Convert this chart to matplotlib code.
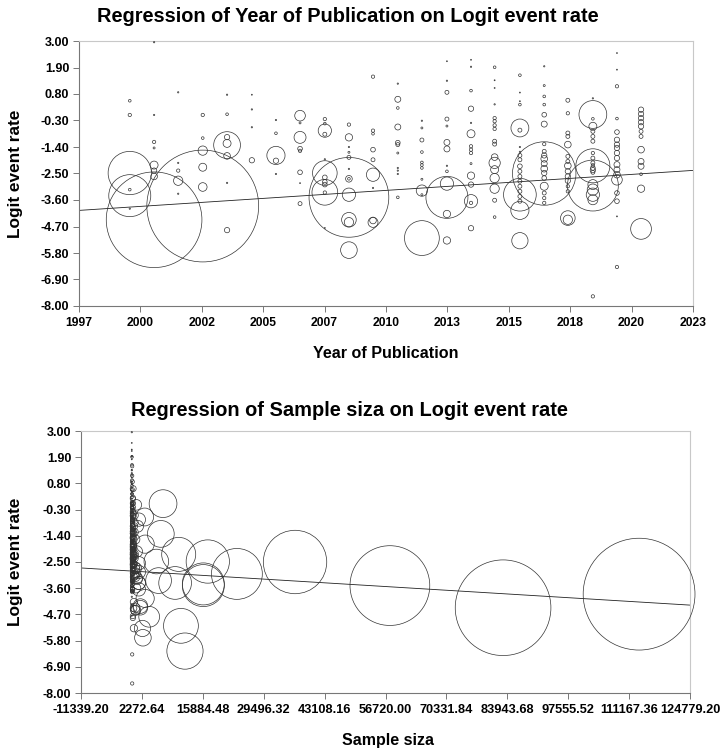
import numpy as np
import matplotlib
matplotlib.use("Agg")
import matplotlib.pyplot as plt

plt.rcParams['font.family'] = ['Liberation Sans', 'DejaVu Sans']
plt.rcParams['font.weight'] = 'bold'

# column positions (year of publication)
years = [1999.15, 2000.18, 2001.2, 2002.24, 2003.27, 2004.32, 2005.34, 2006.36,
         2007.41, 2008.43, 2009.45, 2010.5, 2011.52, 2012.58, 2013.6, 2014.6,
         2015.67, 2016.7, 2017.7, 2018.76, 2019.78, 2020.8]

# logit event rate of each study, grouped by year column
logit = [
    [0.52, -0.07, -2.48, -3.42, -3.17, -3.96],
    [2.95, -0.07, -1.19, -1.44, -2.15, -2.38, -2.62, -4.42],
    [0.87, -2.06, -2.38, -2.80, -3.34],
    [-0.07, -1.03, -1.55, -2.24, -3.06, -3.85],
    [0.77, -0.04, -0.99, -1.25, -1.32, -1.77, -2.89, -4.85],
    [0.77, 0.16, -0.58, -1.95],
    [-0.28, -0.83, -1.75, -1.97, -2.52],
    [-0.10, -0.40, -1.00, -1.47, -1.56, -2.45, -2.90, -3.75],
    [-0.24, -0.43, -0.72, -0.87, -1.91, -2.48, -2.66, -2.85, -2.96, -3.28, -3.29, -4.76],
    [-0.47, -1.00, -1.40, -1.62, -1.83, -2.31, -2.72, -2.72, -3.38, -4.42, -4.52, -5.68, -3.49],
    [1.52, -0.72, -0.85, -1.51, -1.93, -2.55, -3.10, -4.53, -4.45],
    [1.23, 0.58, 0.22, -0.57, -1.22, -1.30, -1.65, -2.27, -2.38, -2.52, -3.49],
    [-0.31, -0.61, -1.11, -1.61, -2.04, -2.15, -2.27, -2.74, -3.21, -3.38, -5.18],
    [2.16, 1.35, 0.87, -0.24, -0.53, -1.21, -1.48, -2.18, -2.41, -2.92, -3.49, -4.18, -5.28],
    [2.22, 1.93, 0.94, 0.19, -0.40, -0.85, -1.37, -1.51, -1.65, -2.09, -2.59, -2.96, -3.65, -3.72, -4.77],
    [1.91, 1.37, 1.05, 0.37, -0.20, -0.33, -0.50, -0.65, -1.16, -1.28, -1.82, -2.06, -2.34, -2.69,
     -3.13, -3.61, -4.31],
    [1.58, 0.86, 0.50, 0.36, -0.61, -0.70, -1.40, -1.60, -1.75, -1.93, -2.20, -2.41, -2.62, -2.82,
     -3.03, -3.24, -3.45, -3.65, -3.38, -4.03, -5.29],
    [1.95, 1.15, 0.70, 0.36, -0.06, -0.45, -1.28, -1.58, -1.75, -1.89, -2.09, -2.30, -2.48, -2.69,
     -3.03, -3.31, -3.52, -3.72, -2.50],
    [0.54, 0.00, -0.82, -0.96, -1.30, -1.79, -2.00, -2.18, -2.41, -2.62, -2.80, -3.03, -3.24, -4.35, -4.42],
    [0.62, -0.05, -0.23, -0.54, -0.75, -0.96, -1.16, -1.65, -1.86, -2.06, -2.16, -2.27, -2.36, -2.45,
     -2.18, -2.96, -3.17, -3.38, -3.59, -3.00, -7.60],
    [2.50, 1.81, 1.12, -0.22, -0.78, -1.10, -1.30, -1.44, -1.65, -1.86, -2.13, -2.34, -2.55, -2.76,
     -3.31, -3.65, -4.28, -6.38],
    [0.15, -0.03, -0.20, -0.37, -0.54, -0.75, -0.96, -1.51, -2.00, -2.20, -2.53, -3.13, -4.80],
]

# sample size of each study (same grouping)
n = [
    [64, 100, 17000, 16000, 64, 16],
    [16, 16, 100, 36, 576, 256, 400, 83000],
    [16, 16, 100, 784, 16],
    [100, 64, 784, 576, 676, 113400],
    [16, 64, 256, 576, 6500, 400, 16, 256],
    [9, 16, 16, 256],
    [16, 64, 3000, 256, 16],
    [1024, 36, 1296, 196, 100, 196, 9, 144],
    [100, 64, 1600, 144, 16, 5500, 196, 196, 196, 6000, 100, 9],
    [100, 484, 16, 36, 144, 16, 400, 64, 1600, 1936, 784, 2500, 57700],
    [100, 100, 64, 196, 144, 1600, 16, 900, 400],
    [16, 324, 64, 324, 196, 144, 36, 16, 16, 16, 64],
    [16, 36, 144, 64, 64, 64, 64, 36, 1156, 36, 11000],
    [9, 16, 144, 144, 36, 324, 324, 16, 64, 1600, 16000, 484, 484],
    [9, 16, 64, 256, 16, 576, 100, 100, 100, 36, 484, 256, 1600, 100, 256],
    [64, 9, 9, 16, 100, 100, 100, 100, 144, 144, 400, 1156, 576, 784, 784, 144, 64],
    [64, 9, 9, 64, 2900, 144, 16, 16, 144, 144, 196, 144, 144, 144, 144, 144, 144, 144, 9700, 3000, 2400],
    [16, 36, 64, 64, 196, 324, 100, 144, 256, 400, 324, 400, 256, 196, 576, 144, 100, 100, 36500],
    [144, 100, 144, 144, 400, 144, 144, 400, 256, 256, 256, 100, 100, 1936, 784],
    [16, 7000, 64, 576, 144, 144, 144, 100, 144, 144, 100, 196, 256, 144, 10500, 900, 1156, 1600, 900,
     23500, 100],
    [9, 9, 100, 64, 196, 256, 256, 256, 256, 256, 324, 324, 400, 1024, 196, 196, 9, 100],
    [256, 256, 256, 256, 256, 144, 144, 400, 324, 324, 64, 484, 3900],
]

# study shown only in the sample size panel
extra_n = [11900]
extra_logit = [-6.24]

# fitted regression lines (intercept, slope)
fit_year = (-131.54, 0.06385)
fit_size = (-2.88, -1.146e-5)

year_x = np.concatenate([[y] * len(v) for y, v in zip(years, logit)])
lg = np.concatenate(logit)
ns = np.concatenate(n)

yticks = np.linspace(3.0, -8.0, 11)
xt_year = np.linspace(1997, 2023, 11)
xt_size = np.linspace(-11339.2, 124779.2, 11)

W, H = 728, 750
fig = plt.figure(figsize=(W / 100, H / 100), dpi=100)
ax1 = fig.add_axes([79 / W, 1 - 306 / H, 614 / W, 265 / H])
ax2 = fig.add_axes([81 / W, 1 - 693 / H, 609 / W, 262 / H])

# marker area in points^2 proportional to sample size
def msize(v):
    r_px = 0.166 * np.sqrt(np.asarray(v, float))
    return (2 * r_px * 0.72) ** 2

def style(ax, xsize):
    for s in ['top', 'right']:
        ax.spines[s].set_color('#c8c8c8')
    for s in ['left', 'bottom']:
        ax.spines[s].set_color('#777777')
    for s in ax.spines.values():
        s.set_linewidth(0.8)
    ax.tick_params(direction='out', length=4, width=0.7, color='#777777', pad=3)
    ax.tick_params(axis='y', labelsize=9)
    ax.tick_params(axis='x', labelsize=xsize, pad=4)
    ax.set_ylim(-8, 3)
    ax.set_yticks(yticks)
    ax.set_yticklabels([f"{v:.2f}" for v in yticks])

def fig_text(x, y, s, size, **kw):
    fig.text(x / W, 1 - y / H, s, ha='center', va='center', fontsize=size,
             fontweight='bold', **kw)

# top panel
ax1.scatter(year_x, lg, s=msize(ns), facecolors='none', edgecolors='#333333',
            linewidths=0.5, clip_on=False, zorder=3)
xx = np.array([1997, 2023])
ax1.plot(xx, fit_year[0] + fit_year[1] * xx, color='#222222', lw=0.6, zorder=2)
ax1.set_xlim(1997, 2023)
ax1.set_xticks(xt_year)
ax1.set_xticklabels([f"{v:.0f}" for v in xt_year])
style(ax1, 8.7)

fig_text(348, 16, "Regression of Year of Publication on Logit event rate", 14.4)
fig_text(386, 353, "Year of Publication", 11.6)
fig_text(16, 174, "Logit event rate", 12.4, rotation=90)

# bottom panel
all_n = np.concatenate([ns, extra_n])
all_lg = np.concatenate([lg, extra_logit])
ax2.scatter(all_n, all_lg, s=msize(all_n), facecolors='none', edgecolors='#333333',
            linewidths=0.5, clip_on=False, zorder=3)
xs = np.array([xt_size[0], xt_size[-1]])
ax2.plot(xs, fit_size[0] + fit_size[1] * xs, color='#222222', lw=0.6, zorder=2)
ax2.set_xlim(xt_size[0], xt_size[-1])
ax2.set_xticks(xt_size)
ax2.set_xticklabels([f"{v:.2f}" for v in xt_size])
style(ax2, 9.2)

fig_text(349, 410, "Regression of Sample siza on Logit event rate", 14.4)
fig_text(388, 741, "Sample siza", 11.5)
fig_text(16, 562, "Logit event rate", 12.4, rotation=90)

fig.savefig("out.png", dpi=100)
